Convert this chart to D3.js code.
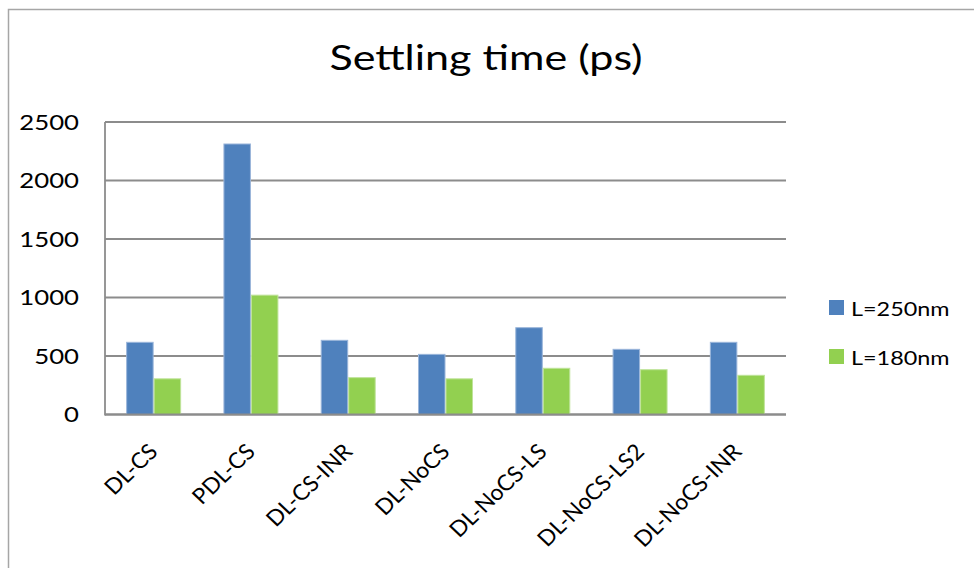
<!DOCTYPE html>
<html>
<head>
<meta charset="utf-8">
<script src="https://cdn.jsdelivr.net/npm/d3@7"></script>
<style>
  html, body { margin: 0; padding: 0; background: #fff; }
  svg { display: block; font-family: Lato, "Open Sans", sans-serif; }
</style>
</head>
<body>
<svg id="chart" width="974" height="568"></svg>
<script>
// Settling time per design, two channel lengths
const categories = ["DL-CS", "PDL-CS", "DL-CS-INR", "DL-NoCS", "DL-NoCS-LS", "DL-NoCS-LS2", "DL-NoCS-INR"];
const seriesNames = ["L=250nm", "L=180nm"];
const valuesL250 = [617, 2312, 634, 514, 742, 557, 617];
const valuesL180 = [305, 1020, 315, 305, 395, 383, 335];
const yTicks = [0, 500, 1000, 1500, 2000, 2500];
const titleText = "Settling time (ps)";

const colors = ["#4F81BD", "#92D050"];
const edgeColors = ["#9ab5da", "#bfe39a"];
// horizontal text is drawn slightly wide
const stretch = 1.17;

const svg = d3.select("#chart");
const W = 974, H = 568;
const plot = { left: 105, right: 786, top: 122, bottom: 414.5 };

// outer chart frame (right and bottom edges run past the canvas)
svg.append("rect")
  .attr("x", 8.5).attr("y", 9.5)
  .attr("width", W + 20).attr("height", H + 20)
  .attr("fill", "#fff")
  .attr("stroke", "#a6a6a6").attr("stroke-width", 1.5);

// title
svg.append("text")
  .attr("transform", `translate(486,70) scale(${stretch + 0.06},1)`)
  .attr("text-anchor", "middle")
  .attr("font-size", 35)
  .attr("fill", "#000")
  .text(titleText);

const x = d3.scaleBand().domain(categories).range([plot.left, plot.right]).padding(0);
const y = d3.scaleLinear().domain([0, 2500]).range([plot.bottom, plot.top]);
const barW = 27.5;
const xSub = d3.scaleBand().domain(seriesNames).range([0, barW * 2]);

// gridlines
svg.append("g").selectAll("line").data(yTicks).join("line")
  .attr("x1", plot.left).attr("x2", plot.right)
  .attr("y1", d => y(d)).attr("y2", d => y(d))
  .attr("stroke", "#8c8c8c").attr("stroke-width", 1.8);

// y tick labels
svg.append("g").selectAll("text").data(yTicks).join("text")
  .attr("transform", d => `translate(79,${y(d)}) scale(${stretch},1)`)
  .attr("dy", "0.36em")
  .attr("text-anchor", "end")
  .attr("font-size", 22)
  .attr("fill", "#000")
  .text(d => d);

// bars
const rows = categories.map((c, i) => ({ cat: c, vals: [valuesL250[i], valuesL180[i]] }));
const groups = svg.append("g").selectAll("g").data(rows).join("g")
  .attr("transform", d => `translate(${x(d.cat) + (x.bandwidth() - barW * 2) / 2},0)`);
groups.selectAll("rect").data(d => d.vals.map((v, k) => ({ v, k })))
  .join("rect")
  .attr("x", d => xSub(seriesNames[d.k]) + 0.5)
  .attr("width", xSub.bandwidth() - 1)
  .attr("y", d => y(d.v))
  .attr("height", d => plot.bottom - y(d.v))
  .attr("fill", d => colors[d.k])
  .attr("stroke", d => edgeColors[d.k])
  .attr("stroke-width", 1);

// axis lines
svg.append("line")
  .attr("x1", plot.left).attr("x2", plot.left)
  .attr("y1", plot.top).attr("y2", plot.bottom + 1)
  .attr("stroke", "#8c8c8c").attr("stroke-width", 1.8);
svg.append("line")
  .attr("x1", plot.left).attr("x2", plot.right)
  .attr("y1", plot.bottom).attr("y2", plot.bottom)
  .attr("stroke", "#8c8c8c").attr("stroke-width", 1.8);

// category labels, rotated
svg.append("g").selectAll("text").data(categories).join("text")
  .attr("transform", d => `translate(${x(d) + x.bandwidth() / 2 + 5.5},453) scale(1.04,1) rotate(-45)`)
  .attr("text-anchor", "end")
  .attr("font-size", 22)
  .attr("fill", "#000")
  .text(d => d);

// legend
const legend = svg.append("g").selectAll("g").data(seriesNames).join("g")
  .attr("transform", (d, i) => `translate(829,${300 + i * 49})`);
legend.append("rect")
  .attr("width", 15).attr("height", 15)
  .attr("fill", (d, i) => colors[i]);
legend.append("text")
  .attr("transform", `translate(22,15.5) scale(${stretch},1)`)
  .attr("font-size", 20)
  .attr("fill", "#000")
  .text(d => d);
</script>
</body>
</html>
